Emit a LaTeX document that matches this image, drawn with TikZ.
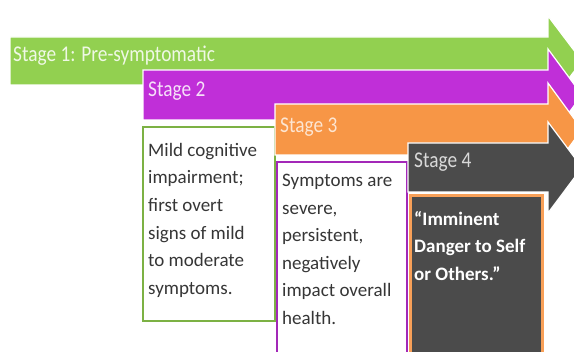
\documentclass[tikz,border=0pt]{standalone}
\usepackage{fontspec}
\setmainfont{Carlito}
\newfontfamily\stagefont[FakeStretch=0.86]{Carlito}
\usepackage{tikz}

\definecolor{stgreen}{HTML}{92D050}
\definecolor{stpurple}{HTML}{C02FD8}
\definecolor{storange}{HTML}{F79646}
\definecolor{stgray}{HTML}{4B4B4B}
\definecolor{txtgray}{HTML}{363636}

\begin{document}
\begin{tikzpicture}[x=1pt,y=-1pt,
    bar/.style={draw=white,line width=1.2pt,line join=miter},
    lbl/.style={anchor=base west,inner sep=0pt,font=\stagefont\fontsize{22.5}{24}\selectfont},
    desc/.style={anchor=north west,inner sep=0pt,align=left,font=\fontsize{19}{27.6}\selectfont}]
    \useasboundingbox (0,0) rectangle (574,352);
    \clip (0,0) rectangle (574,352);

    \filldraw[bar,fill=stgreen] (10,37) -- (548,37) -- (548,16) -- (582,61) -- (548,106) -- (548,85) -- (10,85) -- cycle;
    \node[lbl,text=stgreen!15] (s1) at (13,62) {Stage 1: Pre-symptomatic};

    \filldraw[bar,fill=stpurple] (143,70) -- (548,70) -- (548,49) -- (582,95) -- (548,141) -- (548,120) -- (143,120) -- cycle;
    \node[lbl,text=stpurple!15] (s2) at (148,97) {Stage 2};

    \draw[stgreen!85!black,line width=2pt,fill=white] (143,127) rectangle (275,321);
    \node[desc,text=txtgray] (d2) at (148,143) {Mild cognitive\\impairment;\\first overt\\signs of mild\\to moderate\\symptoms.};

    \filldraw[bar,fill=storange] (275,104) -- (548,104) -- (548,83) -- (582,129.5) -- (548,176) -- (548,155) -- (275,155) -- cycle;
    \node[lbl,text=storange!25] (s3) at (280,133) {Stage 3};

    \draw[stpurple!85!black,line width=1.6pt,fill=white] (277,162) rectangle (407,370);
    \node[desc,text=txtgray] (d3) at (282,174) {Symptoms are\\severe,\\persistent,\\negatively\\impact overall\\health.};

    \filldraw[bar,fill=stgray] (408,143) -- (548,143) -- (548,122) -- (582,167.5) -- (548,213) -- (548,192) -- (408,192) -- cycle;
    \node[lbl,text=gray!30] (s4) at (414,168) {Stage 4};

    \draw[storange!90,line width=3pt,fill=stgray] (410,196) rectangle (542,370);
    \node[desc,text=white] (d4) at (414,211) {\textbf{“Imminent}\\\textbf{Danger to Self}\\\textbf{or Others.”}};
\end{tikzpicture}
\end{document}
